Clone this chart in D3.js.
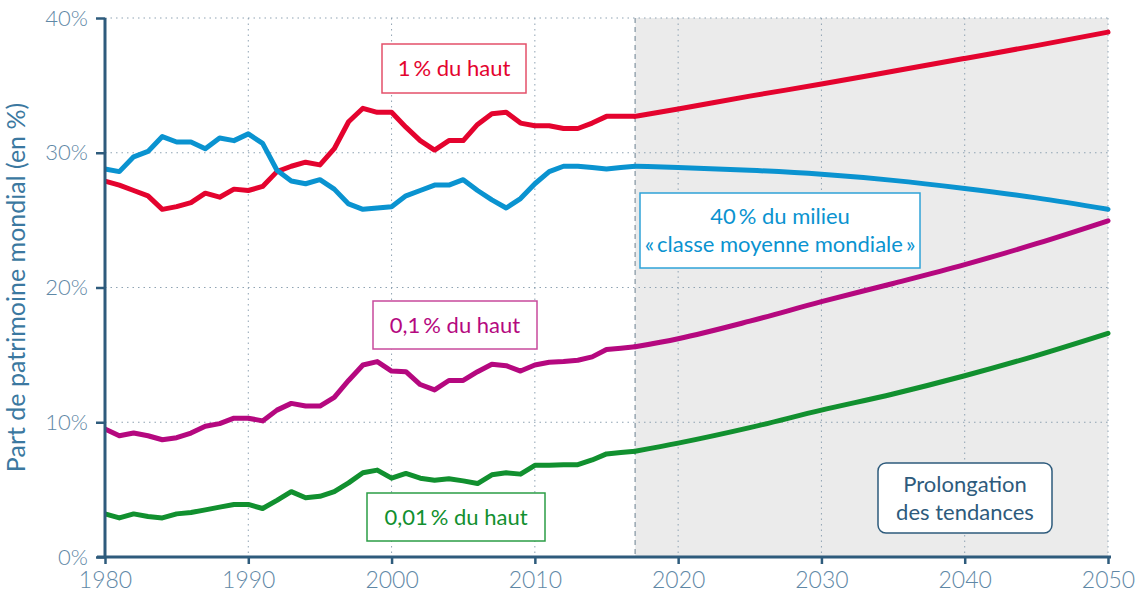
<!DOCTYPE html>
<html>
<head>
<meta charset="utf-8">
<script src="https://cdn.jsdelivr.net/npm/d3@7"></script>
<style>
  body { margin: 0; background: #fff; }
  text { font-family: Lato, "Open Sans", sans-serif; }
</style>
</head>
<body>
<div id="chart"></div>
<script>
// ===== data =====
let years = d3.range(1980, 2018);
let projYears = [2017, 2020, 2025, 2030, 2035, 2040, 2045, 2050];

let top1 = [27.9, 27.6, 27.2, 26.8, 25.8, 26.0, 26.3, 27.0, 26.7, 27.3,
            27.2, 27.5, 28.6, 29.0, 29.3, 29.1, 30.3, 32.3, 33.3, 33.0,
            33.0, 31.9, 30.9, 30.2, 30.9, 30.9, 32.1, 32.9, 33.0, 32.2,
            32.0, 32.0, 31.8, 31.8, 32.2, 32.7, 32.7, 32.7];
let top1Proj = [32.7, 33.25, 34.2, 35.1, 36.05, 37.0, 37.95, 38.95];

let middle40 = [28.8, 28.6, 29.7, 30.1, 31.2, 30.8, 30.8, 30.3, 31.1, 30.9,
                31.4, 30.7, 28.7, 27.9, 27.7, 28.0, 27.3, 26.2, 25.8, 25.9,
                26.0, 26.8, 27.2, 27.6, 27.6, 28.0, 27.2, 26.5, 25.9, 26.6,
                27.7, 28.6, 29.0, 29.0, 28.9, 28.8, 28.9, 29.0];
let middle40Proj = [29.0, 28.9, 28.7, 28.4, 27.95, 27.35, 26.65, 25.8];

let top01 = [9.5, 9.0, 9.2, 9.0, 8.7, 8.85, 9.2, 9.7, 9.9, 10.3,
             10.3, 10.1, 10.9, 11.4, 11.2, 11.2, 11.85, 13.1, 14.25, 14.5,
             13.8, 13.75, 12.8, 12.4, 13.1, 13.1, 13.75, 14.3, 14.2, 13.8,
             14.25, 14.45, 14.5, 14.6, 14.85, 15.4, 15.5, 15.6];
let top01Proj = [15.6, 16.2, 17.5, 18.95, 20.3, 21.7, 23.25, 24.95];

let top001 = [3.2, 2.9, 3.2, 3.0, 2.9, 3.2, 3.3, 3.5, 3.7, 3.9,
              3.9, 3.6, 4.2, 4.85, 4.4, 4.5, 4.85, 5.5, 6.25, 6.45,
              5.85, 6.2, 5.85, 5.7, 5.8, 5.65, 5.45, 6.1, 6.25, 6.15,
              6.8, 6.8, 6.85, 6.85, 7.2, 7.65, 7.75, 7.85];
let top001Proj = [7.85, 8.45, 9.6, 10.9, 12.1, 13.45, 14.95, 16.6];

let yTicks = [0, 10, 20, 30, 40];
let xTicks = [1980, 1990, 2000, 2010, 2020, 2030, 2040, 2050];

let series = [
  {name: "top1", hist: top1, proj: top1Proj, color: "#e4032e"},
  {name: "middle40", hist: middle40, proj: middle40Proj, color: "#0a93d0"},
  {name: "top01", hist: top01, proj: top01Proj, color: "#b5087f"},
  {name: "top001", hist: top001, proj: top001Proj, color: "#11902f"}
];

// ===== layout =====
let margin = {top: 18, right: 35, bottom: 44, left: 105},
    width = 1143 - margin.left - margin.right,
    height = 601 - margin.top - margin.bottom;

let x = d3.scaleLinear().domain([1980, 2050]).range([0, width]),
    y = d3.scaleLinear().domain([0, 40]).range([height, 0]);

let svg = d3.select("#chart").append("svg")
    .attr("width", 1143)
    .attr("height", 601);

let g = svg.append("g")
    .attr("transform", "translate(" + margin.left + "," + margin.top + ")");

// shaded projection zone
g.append("rect")
    .attr("x", x(2017))
    .attr("y", 0)
    .attr("width", x(2050) - x(2017))
    .attr("height", height)
    .attr("fill", "#ebebeb");

// grid
g.selectAll(".hgrid")
  .data(yTicks.filter(d => d > 0))
  .enter().append("line")
    .attr("class", "hgrid")
    .attr("x1", 0).attr("x2", width)
    .attr("y1", d => y(d)).attr("y2", d => y(d))
    .attr("stroke", "#8fa3b3")
    .attr("stroke-width", 1)
    .attr("stroke-dasharray", "1.5,4");

g.selectAll(".vgrid")
  .data(xTicks.filter(d => d > 1980))
  .enter().append("line")
    .attr("class", "vgrid")
    .attr("x1", d => x(d)).attr("x2", d => x(d))
    .attr("y1", 0).attr("y2", height)
    .attr("stroke", "#8fa3b3")
    .attr("stroke-width", 1)
    .attr("stroke-dasharray", "1.5,4");

// 2017 dashed separator
g.append("line")
    .attr("x1", x(2017)).attr("x2", x(2017))
    .attr("y1", 0).attr("y2", height)
    .attr("stroke", "#98a6b1")
    .attr("stroke-width", 1.5)
    .attr("stroke-dasharray", "5,4");

// ===== lines =====
let histLine = d3.line()
    .x((d, i) => x(years[i]))
    .y(d => y(d))
    .curve(d3.curveLinear);

let projLine = d3.line()
    .x((d, i) => x(projYears[i]))
    .y(d => y(d))
    .curve(d3.curveMonotoneX);

series.forEach(s => {
  g.append("path")
      .datum(s.hist)
      .attr("fill", "none")
      .attr("stroke", s.color)
      .attr("stroke-width", 5)
      .attr("stroke-linejoin", "round")
      .attr("d", histLine);
  g.append("path")
      .datum(s.proj)
      .attr("fill", "none")
      .attr("stroke", s.color)
      .attr("stroke-width", 5)
      .attr("stroke-linecap", "round")
      .attr("d", projLine);
});

// ===== axes =====
let axisColor = "#2e5b7c",
    tickText = "#5f88a6";

let yAxis = g.append("g")
    .call(d3.axisLeft(y).tickValues(yTicks).tickSize(9).tickFormat(d => d + "%"));
yAxis.select(".domain").attr("stroke", axisColor).attr("stroke-width", 3)
    .attr("d", "M0," + height + "V0");
yAxis.selectAll(".tick line").attr("stroke", axisColor).attr("stroke-width", 2.5);
yAxis.selectAll(".tick text")
    .attr("x", -17)
    .attr("fill", tickText)
    .style("font-size", "22px")
    .style("font-weight", 300)
    .style("font-family", "Lato, sans-serif");

let xAxis = g.append("g")
    .attr("transform", "translate(0," + height + ")")
    .call(d3.axisBottom(x).tickValues(xTicks).tickSize(7).tickFormat(d3.format("d")));
xAxis.select(".domain").attr("stroke", axisColor).attr("stroke-width", 3)
    .attr("d", "M-8,0H" + (width + 3));
xAxis.selectAll(".tick line").attr("stroke", axisColor).attr("stroke-width", 2.5);
xAxis.selectAll(".tick text")
    .attr("y", 15)
    .attr("fill", tickText)
    .style("font-size", "23px")
    .style("font-weight", 300)
    .style("font-family", "Lato, sans-serif");

svg.append("text")
    .attr("transform", "translate(25," + (margin.top + height / 2) + ") rotate(-90)")
    .attr("text-anchor", "middle")
    .attr("fill", "#3b78a0")
    .style("font-size", "25px")
    .text("Part de patrimoine mondial (en %)");

// ===== labels =====
// "|" marks a narrow gap (French thin space before % and inside guillemets)
let labels = [
  {lines: ["1|% du haut"], x0: 382, y0: 44, w: 144, h: 49, color: "#e4032e", stroke: "#e4506a", rx: 0},
  {lines: ["40|% du milieu", "«|classe moyenne mondiale|»"], x0: 640, y0: 193, w: 280, h: 75, color: "#0a93d0", stroke: "#2fa3d8", rx: 0},
  {lines: ["0,1|% du haut"], x0: 373, y0: 301, w: 164, h: 48, color: "#b5087f", stroke: "#c84a9c", rx: 0},
  {lines: ["0,01|% du haut"], x0: 367, y0: 493, w: 178, h: 48, color: "#11902f", stroke: "#2b9d46", rx: 0},
  {lines: ["Prolongation", "des tendances"], x0: 878, y0: 463, w: 174, h: 70, color: "#2e5b7c", stroke: "#2e5b7c", rx: 8}
];

labels.forEach(l => {
  let lg = svg.append("g");
  lg.append("rect")
      .attr("x", l.x0).attr("y", l.y0)
      .attr("width", l.w).attr("height", l.h)
      .attr("rx", l.rx)
      .attr("fill", "#fff")
      .attr("stroke", l.stroke)
      .attr("stroke-width", 1.5);
  let lh = 28,
      startY = l.y0 + l.h / 2 - (l.lines.length - 1) * lh / 2 + 7.5;
  l.lines.forEach((t, i) => {
    let txt = lg.append("text")
        .attr("x", l.x0 + l.w / 2)
        .attr("y", startY + i * lh)
        .attr("text-anchor", "middle")
        .attr("fill", l.color)
        .style("font-size", "22px");
    t.split("|").forEach((part, j) => {
      txt.append("tspan")
          .attr("dx", j > 0 ? 3 : 0)
          .text(part);
    });
  });
});
</script>
</body>
</html>
